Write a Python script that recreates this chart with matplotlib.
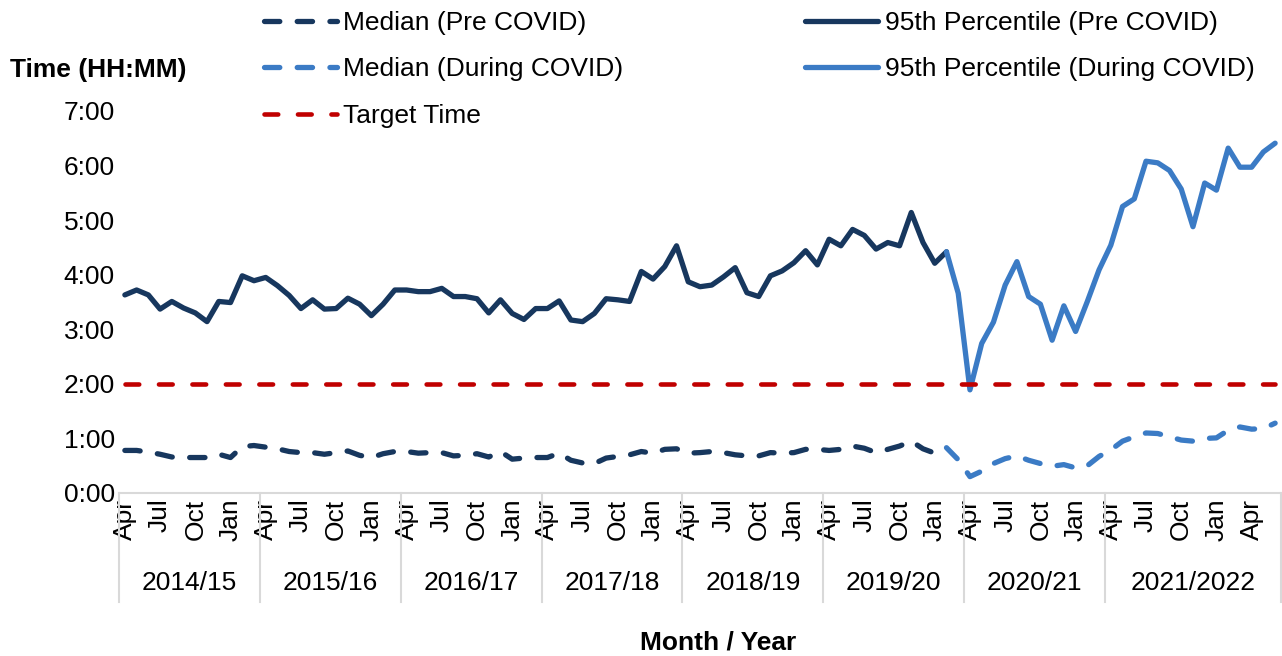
import matplotlib
matplotlib.use("Agg")
import matplotlib.pyplot as plt
from matplotlib.lines import Line2D
from matplotlib.ticker import FuncFormatter
import numpy as np

plt.rcParams['font.family'] = ['Liberation Sans', 'DejaVu Sans']

# ---------------- data (hours) ----------------
# months Apr 2014 .. Jun 2022 (99 months)
month_cycle = ["Apr", "Jul", "Oct", "Jan"]
year_groups = ["2014/15", "2015/16", "2016/17", "2017/18", "2018/19",
               "2019/20", "2020/21", "2021/2022"]
year_group_sizes = [12, 12, 12, 12, 12, 12, 12, 15]

# 95th percentile pre COVID (Apr 2014 .. Feb 2020)
p95_pre = [3.63, 3.72, 3.63, 3.37, 3.51, 3.39, 3.30, 3.14, 3.51, 3.49,
           3.98, 3.89, 3.95, 3.80, 3.62, 3.38, 3.54, 3.37, 3.38, 3.57,
           3.46, 3.25, 3.46, 3.72, 3.72, 3.69, 3.69, 3.75, 3.60, 3.60,
           3.56, 3.30, 3.54, 3.29, 3.18, 3.38, 3.38, 3.52, 3.17, 3.14,
           3.29, 3.56, 3.54, 3.51, 4.06, 3.92, 4.15, 4.53, 3.87, 3.78,
           3.81, 3.96, 4.13, 3.67, 3.60, 3.98, 4.07, 4.22, 4.44, 4.18,
           4.65, 4.53, 4.83, 4.72, 4.47, 4.59, 4.53, 5.14, 4.59, 4.21,
           4.42]
# 95th percentile during COVID (Feb 2020 .. Jun 2022)
p95_during = [4.42, 3.66, 1.89, 2.74, 3.13, 3.81, 4.24, 3.60, 3.46, 2.80,
              3.43, 2.96, 3.51, 4.09, 4.54, 5.25, 5.39, 6.08, 6.05, 5.91,
              5.57, 4.88, 5.68, 5.55, 6.32, 5.97, 5.97, 6.25, 6.41]
# median pre COVID
median_pre = [0.78, 0.78, 0.75, 0.71, 0.66, 0.65, 0.65, 0.65, 0.71, 0.65,
              0.85, 0.87, 0.84, 0.81, 0.76, 0.74, 0.74, 0.71, 0.74, 0.77,
              0.69, 0.65, 0.72, 0.76, 0.76, 0.73, 0.74, 0.74, 0.68, 0.69,
              0.72, 0.66, 0.76, 0.62, 0.64, 0.65, 0.65, 0.73, 0.60, 0.55,
              0.54, 0.64, 0.67, 0.70, 0.76, 0.73, 0.80, 0.81, 0.73, 0.74,
              0.76, 0.74, 0.70, 0.68, 0.68, 0.74, 0.73, 0.74, 0.80, 0.80,
              0.78, 0.80, 0.86, 0.82, 0.74, 0.80, 0.86, 0.95, 0.81, 0.73,
              0.83]
# median during COVID
median_during = [0.83, 0.61, 0.30, 0.40, 0.54, 0.63, 0.68, 0.60, 0.54, 0.49,
                 0.52, 0.46, 0.50, 0.67, 0.79, 0.95, 1.03, 1.10, 1.09, 1.03,
                 0.97, 0.95, 1.00, 1.01, 1.15, 1.21, 1.17, 1.18, 1.28]
target_time = 2.0

# ---------------- styling ----------------
NAVY = "#17375E"
BLUE = "#3B7BC5"
RED = "#C00000"
GRID = "#D9D9D9"
FS = 19
LW = 3.8
LW_T = 3.3

n_months = sum(year_group_sizes)
x_all = np.arange(n_months)
x_pre = np.arange(len(p95_pre))
x_dur = np.arange(len(p95_pre) - 1, len(p95_pre) - 1 + len(p95_during))

W, H = 1282, 656
fig = plt.figure(figsize=(W / 100, H / 100), dpi=100)
L, R, B, T = 119, 1281, 493, 111
ax = fig.add_axes([L / W, 1 - B / H, (R - L) / W, (B - T) / H])

med_dash = (2.9, 3.3)
tgt_dash = (3.0, 4.3)

ax.plot(x_pre, p95_pre, color=NAVY, lw=LW, solid_capstyle='round',
        solid_joinstyle='round', zorder=3)
ax.plot(x_dur, p95_during, color=BLUE, lw=LW, solid_capstyle='round',
        solid_joinstyle='round', zorder=3)
ax.plot(x_pre, median_pre, color=NAVY, lw=LW, dashes=med_dash,
        dash_capstyle='round', dash_joinstyle='round', zorder=3)
ax.plot(x_dur, median_during, color=BLUE, lw=LW, dashes=med_dash,
        dash_capstyle='round', dash_joinstyle='round', zorder=3)
ax.plot(x_all, np.full(n_months, target_time), color=RED, lw=LW_T,
        dashes=tgt_dash, dash_capstyle='round', zorder=4)

ax.set_xlim(-0.5, n_months - 0.5)
ax.set_ylim(0, 7)
ax.set_yticks(np.arange(0, 8, 1))
ax.yaxis.set_major_formatter(FuncFormatter(lambda v, p: f"{int(v)}:{int(round((v % 1) * 60)):02d}"))
ax.tick_params(axis='y', length=0, pad=3, labelsize=FS)

tick_pos = np.arange(0, n_months, 3)
ax.set_xticks(tick_pos)
ax.set_xticklabels([month_cycle[i % 4] for i in range(len(tick_pos))],
                   rotation=90, fontsize=FS)
ax.tick_params(axis='x', length=0, pad=4)

for s in ['top', 'right', 'left']:
    ax.spines[s].set_visible(False)
ax.spines['bottom'].set_color(GRID)
ax.spines['bottom'].set_linewidth(1.5)

# group separators and year labels
tr = ax.get_xaxis_transform()
bounds = np.concatenate([[0], np.cumsum(year_group_sizes)]) - 0.5
sep_bottom = -(602 - B) / (B - T)
for b in bounds:
    ax.plot([b, b], [0, sep_bottom], transform=tr, color=GRID, lw=1.5,
            clip_on=False)
lab_y = -(583 - B) / (B - T)
for i, name in enumerate(year_groups):
    c = (bounds[i] + bounds[i + 1]) / 2
    ax.text(c, lab_y, name, transform=tr, ha='center', va='center',
            fontsize=FS)

fig.text(718 / W, 1 - 643 / H, "Month / Year", ha='center', va='center',
         fontsize=FS, fontweight='bold')
fig.text(10 / W, 1 - 70 / H, "Time (HH:MM)", ha='left', va='center',
         fontsize=FS, fontweight='bold')

handles = [
    Line2D([], [], color=NAVY, lw=LW, dashes=med_dash, dash_capstyle='round'),
    Line2D([], [], color=BLUE, lw=LW, dashes=med_dash, dash_capstyle='round'),
    Line2D([], [], color=RED, lw=LW_T, dashes=tgt_dash, dash_capstyle='round'),
    Line2D([], [], color=NAVY, lw=LW, solid_capstyle='round'),
    Line2D([], [], color=BLUE, lw=LW, solid_capstyle='round'),
]
labels = ["Median (Pre COVID)", "Median (During COVID)", "Target Time",
          "95th Percentile (Pre COVID)", "95th Percentile (During COVID)"]
leg = fig.legend(handles, labels, ncol=2, loc='upper left',
                 bbox_to_anchor=(264 / W, 1 - 11 / H), frameon=False,
                 fontsize=FS, handlelength=2.75, handletextpad=0.25,
                 columnspacing=6.9, labelspacing=0.85, borderpad=0,
                 borderaxespad=0)

fig.savefig("out.png", dpi=100)
